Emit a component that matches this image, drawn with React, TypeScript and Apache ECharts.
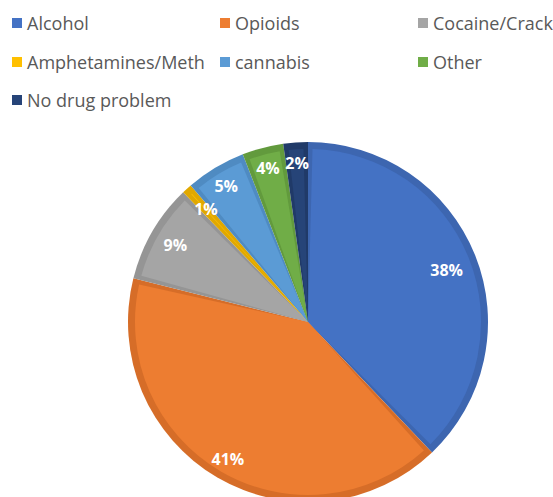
import React, { useEffect, useRef } from "react";
import * as echarts from "echarts";

const categories = ["Alcohol", "Opioids", "Cocaine/Crack", "Amphetamines/Meth", "cannabis", "Other", "No drug problem"];
const values = [37.9, 41.0, 8.9, 0.9, 5.4, 3.7, 2.2];
const lightColors = ["#4472C4", "#ED7D31", "#A5A5A5", "#FFC000", "#5B9BD5", "#70AD47", "#264478"];
const darkColors = ["#3D66B0", "#D66D28", "#959595", "#E0A800", "#4F8BC2", "#629A3D", "#203A68"];
const legendPos: [number, number][] = [
  [12, 23], [220, 23], [418, 23],
  [12, 62], [220, 62], [418, 62],
  [12, 100],
];

export default function App() {
  const ref = useRef<HTMLDivElement>(null);
  useEffect(() => {
    document.body.style.margin = "0";
    const chart = echarts.init(ref.current!, null, { renderer: "svg" });
    const font = "'Open Sans', 'Liberation Sans', sans-serif";
    const center = [308, 322];
    chart.setOption({
      animation: false,
      legend: categories.map((c, i) => ({
        data: [c],
        left: legendPos[i][0],
        top: legendPos[i][1] - 10,
        padding: 0,
        icon: "rect",
        itemWidth: 10,
        itemHeight: 10,
        selectedMode: false,
        textStyle: { color: "#595959", fontSize: 18, fontFamily: font, lineHeight: 20 },
      })),
      series: [
        {
          type: "pie",
          z: 3,
          center,
          radius: [0, 173],
          startAngle: 90,
          clockwise: true,
          padAngle: 3,
          silent: true,
          label: { show: false },
          labelLine: { show: false },
          data: categories.map((c, i) => ({ name: c, value: values[i], itemStyle: { color: lightColors[i] } })),
        },
        {
          type: "pie",
          z: 2,
          center,
          radius: [0, 180],
          startAngle: 90,
          clockwise: true,
          silent: true,
          label: { show: false },
          labelLine: { show: false },
          data: categories.map((c, i) => ({ name: c, value: values[i], itemStyle: { color: darkColors[i] } })),
        },
        {
          type: "pie",
          z: 4,
          center,
          radius: [132, 180],
          startAngle: 90,
          clockwise: true,
          silent: true,
          itemStyle: { color: "rgba(0,0,0,0)" },
          labelLine: { show: false },
          label: {
            show: true,
            position: "inside",
            color: "#ffffff",
            fontWeight: "bold",
            fontSize: 16,
            fontFamily: font,
            formatter: (p: any) => Math.round(p.percent) + "%",
          },
          data: categories.map((c, i) => ({
            name: c,
            value: values[i],
            label: i === 0 ? { offset: [-9, 7] } : i === 2 ? { offset: [5, 3] } : i === 3 ? { offset: [5, 5] } : undefined,
          })),
        },
      ],
    });
    return () => chart.dispose();
  }, []);
  return <div ref={ref} style={{ width: 553, height: 497 }} />;
}
